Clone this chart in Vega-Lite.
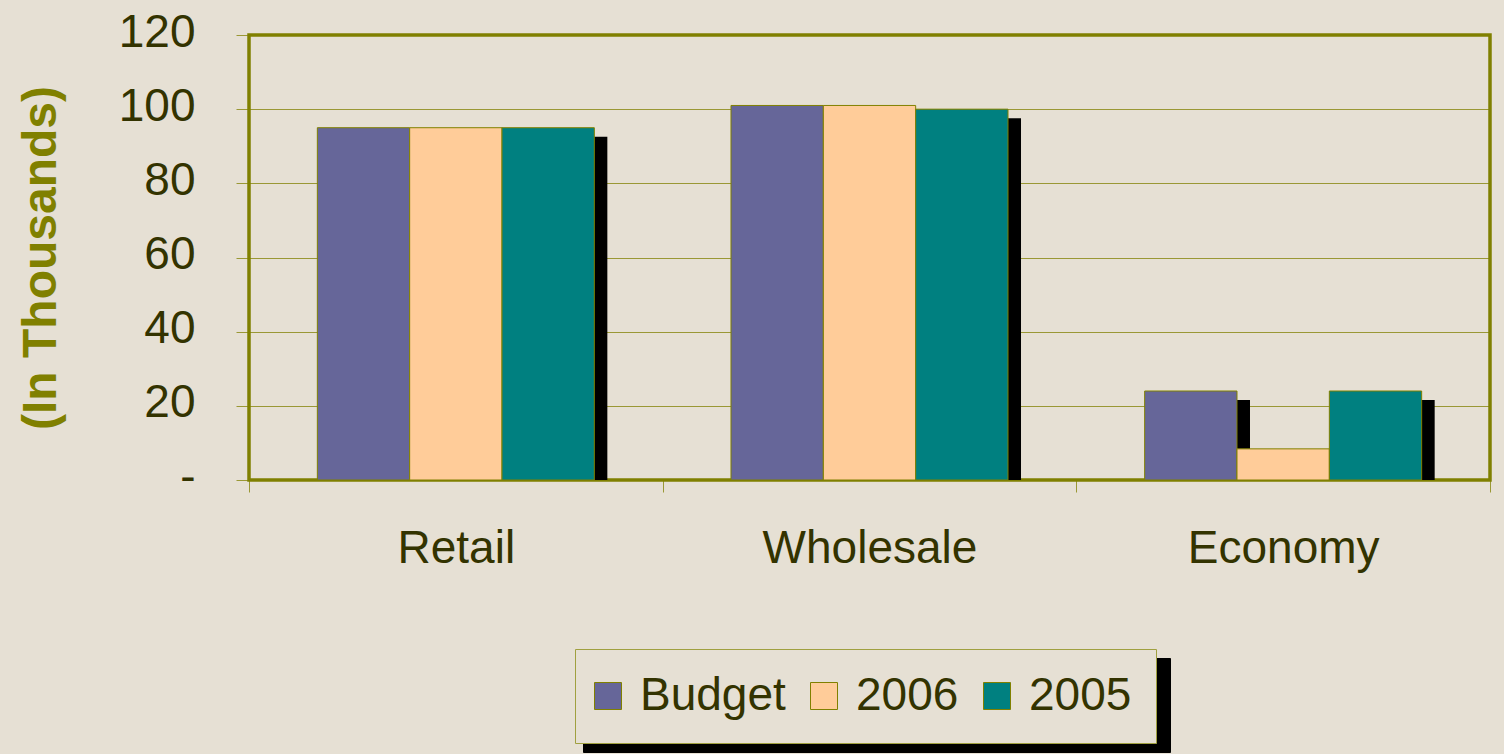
{
  "$schema": "https://vega.github.io/schema/vega-lite/v6.json",
  "width": 1241,
  "height": 445,
  "autosize": {"type": "none"},
  "padding": {"left": 249, "top": 35, "right": 14, "bottom": 274},
  "background": "#E6E0D4",
  "config": {
    "font": "Liberation Sans",
    "view": {"stroke": "#808000", "strokeWidth": 3.5, "fill": "#E6E0D4"}
  },
  "data": {
    "values": [
      {"category": "Retail", "series": "Budget", "value": 95},
      {"category": "Retail", "series": "2006", "value": 95},
      {"category": "Retail", "series": "2005", "value": 95},
      {"category": "Wholesale", "series": "Budget", "value": 101},
      {"category": "Wholesale", "series": "2006", "value": 101},
      {"category": "Wholesale", "series": "2005", "value": 100},
      {"category": "Economy", "series": "Budget", "value": 24},
      {"category": "Economy", "series": "2006", "value": 8.4},
      {"category": "Economy", "series": "2005", "value": 24}
    ]
  },
  "encoding": {
    "x": {
      "field": "category",
      "type": "nominal",
      "sort": ["Retail", "Wholesale", "Economy"],
      "scale": {"paddingInner": 0, "paddingOuter": 0},
      "axis": {
        "title": null,
        "labelAngle": 0,
        "labelFontSize": 46,
        "labelColor": "#333300",
        "labelPadding": 34,
        "labelLimit": 0,
        "tickBand": "extent",
        "tickSize": 12,
        "tickColor": "#808000",
        "tickOpacity": 0.75,
        "domain": false,
        "grid": false
      }
    },
    "y": {
      "field": "value",
      "type": "quantitative",
      "scale": {"domain": [0, 120], "nice": false},
      "axis": {
        "title": "(In Thousands)",
        "titleFontSize": 48,
        "titleFontWeight": "bold",
        "titleColor": "#808000",
        "titlePadding": 53,
        "values": [0, 20, 40, 60, 80, 100, 120],
        "labelExpr": "datum.value == 0 ? '-' : datum.label",
        "labelFontSize": 46,
        "labelColor": "#333300",
        "labelPadding": 41,
        "labelOffset": -3,
        "tickSize": 13,
        "tickColor": "#808000",
        "tickOpacity": 0.75,
        "domain": false,
        "grid": true,
        "gridColor": "#808000",
        "gridOpacity": 0.75,
        "gridWidth": 1
      }
    }
  },
  "layer": [
    {
      "mark": {"type": "bar", "yOffset": 9, "clip": true},
      "encoding": {
        "xOffset": {
          "field": "series",
          "type": "nominal",
          "sort": ["Budget", "2006", "2005"],
          "scale": {"paddingInner": 0, "paddingOuter": 0.74, "range": [13, 426.67]}
        },
        "color": {
          "field": "series",
          "type": "nominal",
          "scale": {"domain": ["Budget", "2006", "2005"], "range": ["#000000", "#000000", "#000000"]},
          "legend": {
            "orient": "none",
            "legendX": 334,
            "legendY": 623,
            "direction": "horizontal",
            "title": null,
            "fillColor": "#000000",
            "strokeColor": "#000000",
            "padding": 24,
            "labelFontSize": 46,
            "labelColor": "#000000",
            "labelExpr": "datum.label == 'Budget' ? '\u00a0\u00a0\u00a0\u00a0\u00a0\u00a0\u00a0\u00a0\u00a0\u00a0\u00a0\u00a0' : '\u00a0\u00a0\u00a0\u00a0\u00a0\u00a0\u00a0\u00a0'",
            "labelOffset": 9,
            "columnPadding": 201,
            "symbolOffset": -14,
            "symbolType": "square",
            "symbolSize": 729,
            "symbolStrokeColor": "#000000",
            "symbolStrokeWidth": 1,
            "zindex": 0
          }
        }
      }
    },
    {
      "mark": {"type": "bar", "stroke": "#808000", "strokeWidth": 1},
      "encoding": {
        "xOffset": {
          "field": "series",
          "type": "nominal",
          "sort": ["Budget", "2006", "2005"],
          "scale": {"paddingInner": 0, "paddingOuter": 0.74}
        },
        "fill": {
          "field": "series",
          "type": "nominal",
          "sort": ["Budget", "2006", "2005"],
          "scale": {"range": ["#666699", "#FFCC99", "#008080"]},
          "legend": {
            "orient": "none",
            "legendX": 326,
            "legendY": 614,
            "direction": "horizontal",
            "title": null,
            "fillColor": "#E6E0D4",
            "strokeColor": "#A0A040",
            "padding": 24,
            "labelFontSize": 46,
            "labelColor": "#333300",
            "labelOffset": 9,
            "columnPadding": 22,
            "symbolOffset": -14,
            "symbolType": "square",
            "symbolSize": 729,
            "symbolStrokeColor": "#808000",
            "symbolStrokeWidth": 1,
            "symbolOpacity": 1,
            "zindex": 1
          }
        }
      }
    }
  ],
  "resolve": {"scale": {"xOffset": "independent"}}
}
